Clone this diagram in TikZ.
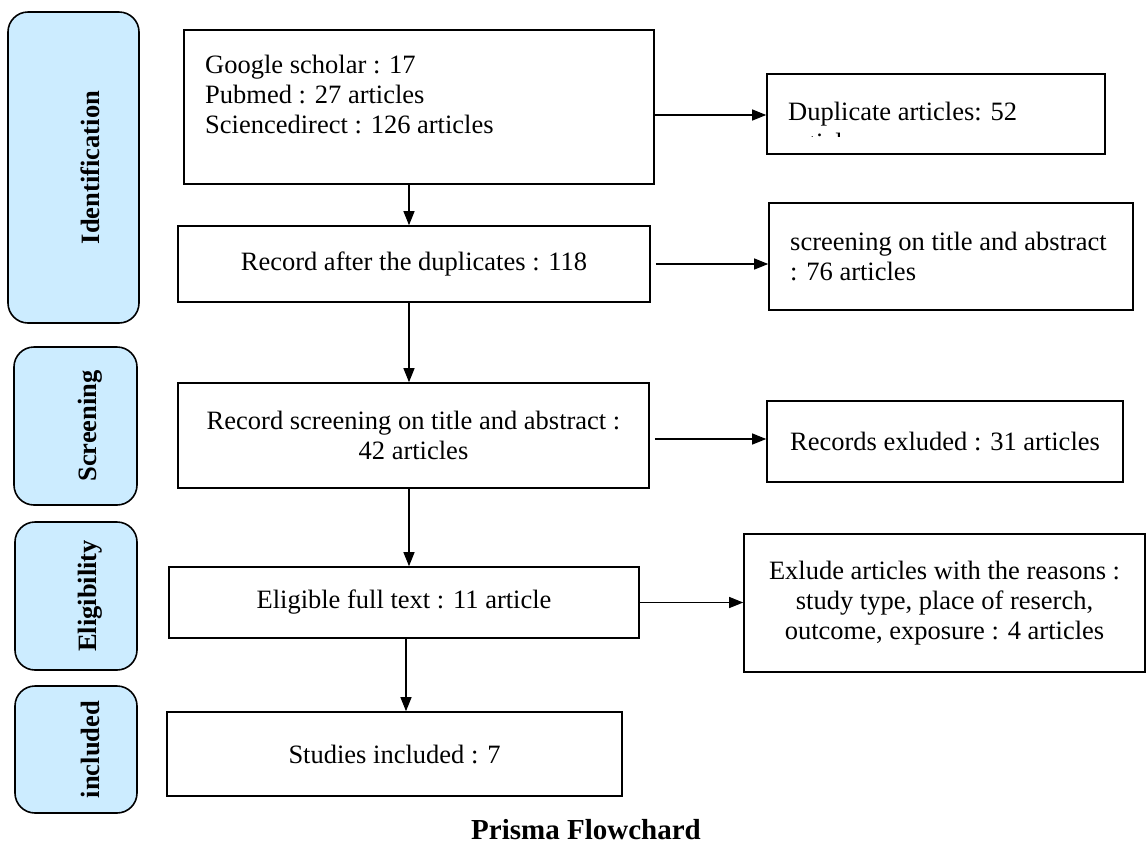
\documentclass[tikz,border=0pt]{standalone}
\usepackage{fontspec}
\setmainfont{Liberation Serif}
\usetikzlibrary{arrows.meta,calc}
\definecolor{labblue}{HTML}{CCECFF}
\begin{document}
\begin{tikzpicture}[x=1pt,y=-1pt,
  box/.style={draw, line width=1.6pt, inner sep=0pt, font=\fontsize{26.5}{30}\selectfont, align=center},
  txt/.style={inner sep=0pt, font=\fontsize{26.5}{30}\selectfont},
  lab/.style={draw, line width=1.6pt, rounded corners=20pt, fill=labblue, inner sep=0pt},
  labtxt/.style={rotate=90, inner sep=0pt, font=\fontsize{26.5}{30}\selectfont\bfseries},
  arr/.style={line width=1.1pt, -{Triangle[length=14pt,width=11pt]}}]
\useasboundingbox (0,0) rectangle (1147,847);
\fill[white] (0,0) rectangle (1147,847);

% stage labels
\node[lab, minimum width=131pt, minimum height=311pt] (L1) at (73.5,167.5) {};
\node[labtxt] (L1t) at (90,167.5) {Identification};
\node[lab, minimum width=123pt, minimum height=158pt] (L2) at (75.5,426) {};
\node[labtxt] (L2t) at (90,426) {Screening};
\node[lab, minimum width=122pt, minimum height=148pt] (L3) at (76,596) {};
\node[labtxt] (L3t) at (90,596) {Eligibility};
\node[lab, minimum width=122pt, minimum height=127pt] (L4) at (76,749.5) {};
\node[labtxt] (L4t) at (90,749.5) {included};

% main column
\node[box, minimum width=470pt, minimum height=154pt] (b1) at (419,107) {};
\node[txt, align=left, anchor=north west] (b1t) at (205,55) {Google scholar : 17\\Pubmed : 27 articles\\Sciencedirect : 126 articles};
\node[box, minimum width=472pt, minimum height=76pt] (b2) at (414,264) {Record after the duplicates : 118};
\node[box, minimum width=471pt, minimum height=105pt] (b3) at (413.5,435.5) {Record screening on title and abstract :\\42 articles};
\node[box, minimum width=470pt, minimum height=71pt] (b4) at (404,602.5) {Eligible full text : 11 article};
\node[box, minimum width=455pt, minimum height=84pt] (b5) at (394.5,754) {Studies included : 7};

% right column
\node[box, minimum width=338pt, minimum height=80pt] (dup) at (936,114) {};
\node[txt, anchor=base west] (dupt) at (788,120) {Duplicate articles: 52};
\begin{scope}
  \clip (780,76) rectangle (1100,136);
  \node[txt, anchor=base west] (dupt2) at (788,151) {articles};
\end{scope}
\node[box, minimum width=364pt, minimum height=107pt] (scr) at (951,256.5) {};
\node[txt, align=left, anchor=west] (scrt) at (790,256.5) {screening on title and abstract\\: 76 articles};
\node[box, minimum width=356pt, minimum height=81pt] (rec) at (945,441.5) {Records exluded : 31 articles};
\node[box, minimum width=401pt, minimum height=138pt] (exc) at (944.5,603) {Exlude articles with the reasons :\\study type, place of reserch,\\outcome, exposure : 4 articles};

% title
\node[inner sep=0pt, font=\fontsize{29}{30}\selectfont\bfseries] (title) at (586,830) {Prisma Flowchard};

% connectors
\coordinate (ax) at (409,0);
\coordinate (ax2) at (406,0);
\draw[arr] (b1.south -| ax) -- (b2.north -| ax);
\draw[arr] (b2.south -| ax) -- (b3.north -| ax);
\draw[arr] (b3.south -| ax) -- (b4.north -| ax);
\draw[arr] (b4.south -| ax2) -- (b5.north -| ax2);
\draw[arr] (b1.east |- 0,115) -- (dup.west |- 0,115);
\draw[arr] ([xshift=5pt]b2.east) -- (b2.east -| scr.west);
\draw[arr] ([xshift=5pt]b3.east |- 0,439) -- (rec.west |- 0,439);
\draw[arr] (b4.east) -- (b4.east -| exc.west);
\end{tikzpicture}
\end{document}
